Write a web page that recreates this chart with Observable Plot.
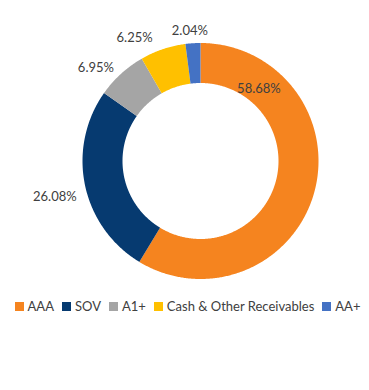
<!DOCTYPE html>
<html><head><meta charset="utf-8">
<script src="https://cdn.jsdelivr.net/npm/d3@7"></script>
<script src="https://cdn.jsdelivr.net/npm/@observablehq/plot@0.6"></script>
<style>
body{margin:0;background:#fff;font-family:Lato,"Noto Sans",sans-serif;}
#legend{display:flex;justify-content:center;align-items:center;gap:8px;font-size:13px;color:#404040;margin-top:8px;padding-left:6px;}
#legend .it{display:flex;align-items:center;gap:4px;}
#legend .sw{width:9px;height:9px;display:inline-block;}
</style></head>
<body><div id="chart"></div><div id="legend"></div>
<script>
const categories = ["AAA","SOV","A1+","Cash & Other Receivables","AA+"];
const values = [58.68, 26.08, 6.95, 6.25, 2.04];
const labels = ["58.68%","26.08%","6.95%","6.25%","2.04%"];
const colors = ["#F5841F","#063A70","#A5A5A5","#FFC000","#4472C4"];

const W = 369, H = 290, cx = 200, cy = 160.5, R0 = 78, R1 = 118;
// label placement (angle offset in degrees, radius)
const lblPlace = [{da:-66.7,r:93},{da:-2,r:150},{da:-6,r:140},{da:-9.5,r:140},{da:-1,r:131}];

const total = d3.sum(values);
let acc = 0;
const slices = values.map((v,i)=>{const a0=acc/total*360; acc+=v; const a1=acc/total*360; return {cat:categories[i],a0,a1,i};});
const pt = (a,r)=>[cx + r*Math.sin(a*Math.PI/180), cy - r*Math.cos(a*Math.PI/180)];
const poly = [];
for (const s of slices) {
  const n = Math.max(4, Math.ceil((s.a1-s.a0)/0.5));
  for (let k=0;k<=n;k++){const a=s.a0+(s.a1-s.a0)*k/n; const [x,y]=pt(a,R1); poly.push({cat:s.cat,x,y});}
  for (let k=n;k>=0;k--){const a=s.a0+(s.a1-s.a0)*k/n; const [x,y]=pt(a,R0); poly.push({cat:s.cat,x,y});}
}
const lbl = slices.map((s,i)=>{const m=(s.a0+s.a1)/2+lblPlace[i].da; const [x,y]=pt(m,lblPlace[i].r); return {x,y,t:labels[i]};});

const plot = Plot.plot({
  width: W, height: H, margin: 0,
  x: {domain:[0,W], range:[0,W], axis:null},
  y: {domain:[0,H], range:[0,H], axis:null},
  color: {domain: categories, range: colors},
  style: {fontFamily: 'Lato, "Noto Sans", sans-serif'},
  marks: [
    Plot.line(poly, {x:"x", y:"y", z:"cat", fill:"cat", stroke:null, curve:"linear-closed"}),
    Plot.text(lbl, {x:"x", y:"y", text:"t", fontSize:13, fill:"#404040", textAnchor:"middle", lineAnchor:"middle"})
  ]
});
document.getElementById("chart").appendChild(plot);
const lg = document.getElementById("legend");
categories.forEach((c,i)=>{const d=document.createElement("span");d.className="it";d.innerHTML=`<span class="sw" style="background:${colors[i]}"></span><span></span>`;d.lastChild.textContent=c;lg.appendChild(d);});
</script></body></html>
